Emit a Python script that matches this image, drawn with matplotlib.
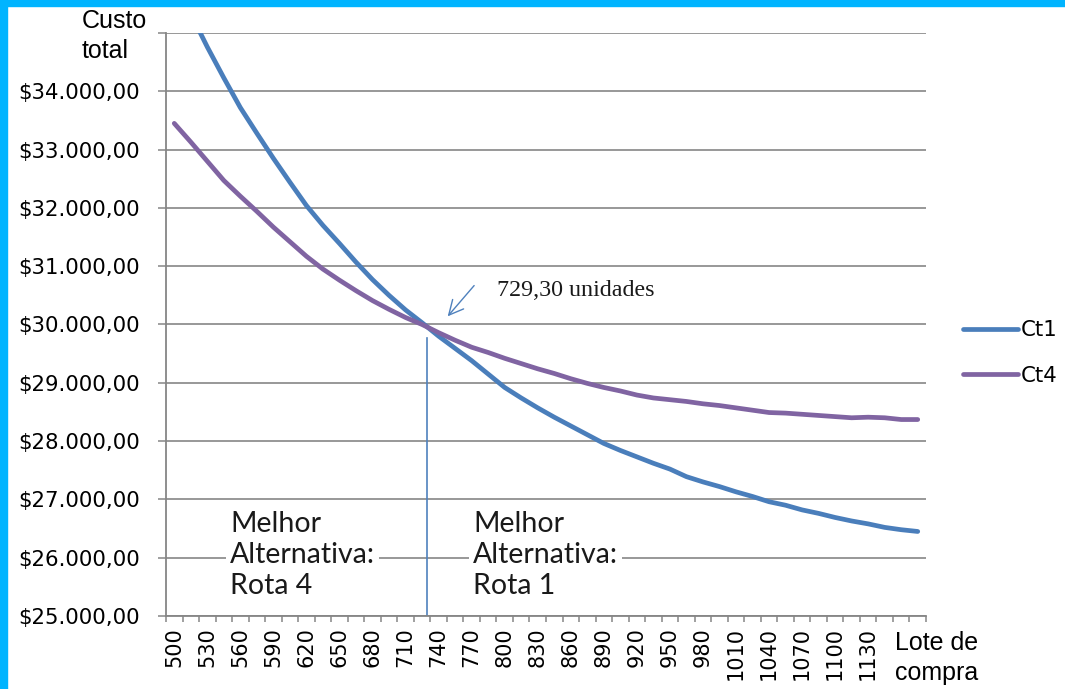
import numpy as np
import matplotlib
matplotlib.use("Agg")
import matplotlib.pyplot as plt
from matplotlib.patches import Rectangle

#dados
lote = list(range(500, 1180, 15))  # lote de compra (categorias)

ct1 = [35900, 35330, 34760, 34230, 33720, 33280, 32850, 32440, 32040, 31700,
       31390, 31070, 30770, 30500, 30250, 30030, 29800, 29590, 29380, 29150,
       28920, 28740, 28570, 28410, 28260, 28110, 27960, 27840, 27730, 27620,
       27520, 27390, 27300, 27220, 27130, 27050, 26960, 26900, 26820, 26760,
       26690, 26630, 26580, 26520, 26480, 26450]

ct4 = [33450, 33130, 32800, 32470, 32200, 31940, 31670, 31420, 31170, 30950,
       30760, 30580, 30410, 30260, 30120, 30000, 29860, 29730, 29610, 29520,
       29420, 29330, 29240, 29160, 29070, 28990, 28920, 28860, 28790, 28740,
       28710, 28680, 28640, 28610, 28570, 28530, 28490, 28480, 28460, 28440,
       28420, 28400, 28410, 28400, 28370, 28370]

lote_otimo = 729.30
y_ticks = list(range(25000, 36000, 1000))
x_labels = list(range(500, 1140, 30))

#cores
azul = '#4A7EBB'
roxo = '#8064A2'
cinza = '#868686'

plt.rcParams['font.family'] = ['DejaVu Sans']

fig = plt.figure(figsize=(10.65, 6.89), dpi=100)
fig.patch.set_facecolor('white')
ax = fig.add_axes([166/1065, 1 - 616/689, 760/1065, 583/689])

ax.plot(lote, ct1, color=azul, lw=3.4, label='Ct1', solid_capstyle='round')
ax.plot(lote, ct4, color=roxo, lw=3.4, label='Ct4', solid_capstyle='round')

ax.set_xlim(lote[0] - 7.5, lote[-1] + 7.5)
ax.set_ylim(25000, 35000)

#grade e eixos
def moeda(v):
    return '$' + f'{v:,.2f}'.replace(',', 'X').replace('.', ',').replace('X', '.')

ax.set_yticks(y_ticks)
ax.set_yticklabels(['' if v == 35000 else moeda(v) for v in y_ticks], fontsize=15.3)
ax.yaxis.grid(True, color=cinza, lw=1.2)
ax.set_axisbelow(True)
ax.tick_params(axis='y', length=6, width=1.1, color=cinza, pad=13)

fronteiras = [v - 7.5 for v in lote] + [lote[-1] + 7.5]
ax.set_xticks(fronteiras)
ax.set_xticklabels([])
ax.tick_params(axis='x', which='major', length=4.5, width=1.1, color=cinza)
ax.set_xticks(x_labels, minor=True)
ax.set_xticklabels([str(v) for v in x_labels], minor=True, rotation=90, fontsize=15)
ax.tick_params(axis='x', which='minor', length=0, pad=8)

for s in ['top', 'right']:
    ax.spines[s].set_visible(False)
for s in ['left', 'bottom']:
    ax.spines[s].set_color(cinza)
    ax.spines[s].set_linewidth(1.3)

#linha vertical no ponto de equilibrio
ax.plot([lote_otimo, lote_otimo], [25000, 29770], color='#4F81BD', lw=1.2)

ax.annotate('', xy=(746.6, 30104), xytext=(773.9, 30704),
            arrowprops=dict(arrowstyle='->', color='#4F81BD', lw=1.0,
                            mutation_scale=26))
ax.text(793, 30589, '729,30 unidades', fontsize=17.3, family='Liberation Serif',
        va='center', ha='left', color='#1a1a1a')

caixa = dict(facecolor='white', edgecolor='none', pad=3)
ax.text(550.6, 26046, 'Melhor\nAlternativa:\nRota 4', fontsize=20.5, family='Lato',
        va='center', ha='left', linespacing=1.25, bbox=caixa, color='#1a1a1a')
ax.text(771.2, 26046, 'Melhor\nAlternativa:\nRota 1', fontsize=20.5, family='Lato',
        va='center', ha='left', linespacing=1.25, bbox=caixa, color='#1a1a1a')

#textos dos eixos
fig.text(82/1065, 1 - 9/689, 'Custo\ntotal', fontsize=18, family='Liberation Sans',
         va='top', ha='left', linespacing=1.3)
fig.text(895/1065, 1 - 631/689, 'Lote de\ncompra', fontsize=18, family='Liberation Sans',
         va='top', ha='left', linespacing=1.3)

fig.legend(loc='center left', bbox_to_anchor=(963/1065, 1 - 353/689),
           frameon=False, fontsize=15.3, handlelength=2.6, handletextpad=0.1,
           labelspacing=1.2, borderpad=0, borderaxespad=0)

#moldura azul
fig.patches.append(Rectangle((0, 0), 7/1065, 1, transform=fig.transFigure,
                             color='#00B4FF', zorder=10))
fig.patches.append(Rectangle((0, 1 - 6/689), 1, 6/689, transform=fig.transFigure,
                             color='#00B4FF', zorder=10))

fig.savefig('out.png', dpi=100)
